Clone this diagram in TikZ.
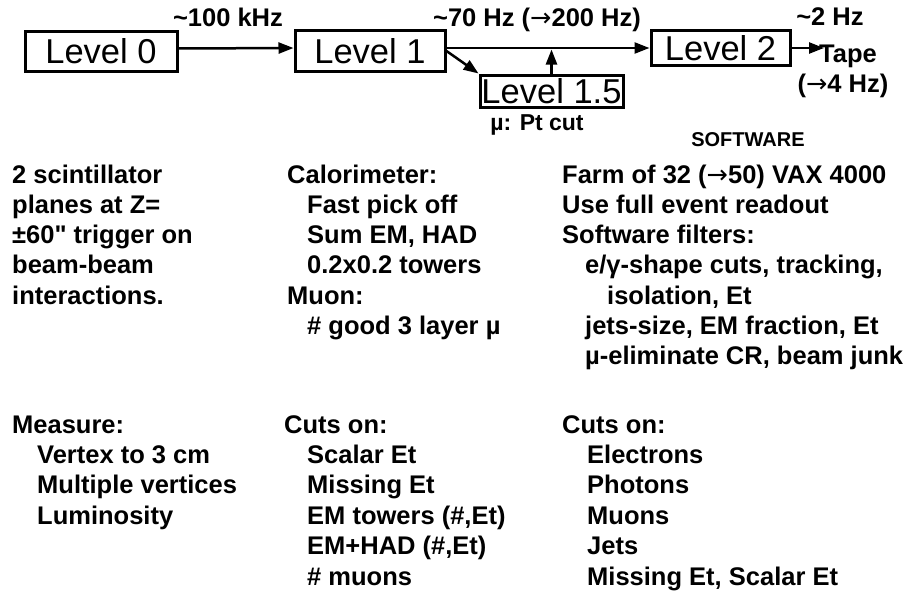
\documentclass[tikz,border=0pt]{standalone}
\usepackage{fontspec}
\setmainfont{Liberation Sans}
\newfontfamily\plainfont{Liberation Sans}
\newfontfamily\arrowfont{DejaVu Sans}
\newcommand\rarr{{\arrowfont\mdseries →}}
\newcommand\inchmark{{\plainfont\bfseries "}}
\usetikzlibrary{arrows.meta,calc}
\begin{document}
\begin{tikzpicture}[x=1pt,y=-1pt,
  lvl/.style={draw, line width=3pt, inner sep=0pt, font=\fontsize{34.5}{40}\selectfont},
  body/.style={anchor=base west, inner sep=0pt, font=\bfseries\fontsize{25.5}{30}\selectfont},
  lbl/.style={anchor=base, inner sep=0pt, font=\bfseries\fontsize{25.5}{30}\selectfont},
  arr/.style={line width=2.5pt, -{Triangle[length=15pt,width=11pt]}}]
\useasboundingbox (0,0) rectangle (920,594);

% level boxes
\node[lvl, minimum width=152pt, minimum height=39pt] (l0) at (101,51.5) {Level 0};
\node[lvl, minimum width=150pt, minimum height=40pt] (l1) at (370,51) {Level 1};
\node[lvl, minimum width=139pt, minimum height=35pt] (l2) at (720.5,48) {Level 2};
\node[lvl, minimum width=143pt, minimum height=32pt] (l15) at (551.5,91) {Level 1.5};

% rate labels
\node[lbl] (r0) at (228,27) {\textasciitilde100 kHz};
\node[lbl] (r1) at (537,27) {\textasciitilde70 Hz (\rarr200 Hz)};
\node[lbl] (r2) at (830,26) {\textasciitilde2 Hz};
\node[body] (tape) at (819,63) {Tape};
\node[lbl] (r2b) at (843,92) {(\rarr4 Hz)};
\node[lbl, font=\bfseries\fontsize{23}{28}\selectfont] (mu) at (537,130) {µ: Pt cut};
\node[lbl, font=\bfseries\fontsize{20}{24}\selectfont] (sw) at (748,146) {SOFTWARE};

% connectors
\draw[arr] ([yshift=3pt]l0.east) -- ([yshift=3pt]l1.west);
\draw[arr] ([yshift=3pt]l1.east) -- (l2.west);
\draw[arr] (l1.east) -- (l15.north west);
\coordinate (j) at (l15.north |- l2.west);
\draw[arr, shorten >=1.5pt] (l15.north) -- (j);
\draw[arr] (l2.east) -- ($(tape.west |- l2.east)+(5,0)$);

% top text columns
\foreach \dx/\t [count=\i] in {0/{2 scintillator}, 0/{planes at Z=}, 0/{±60\inchmark{} trigger on}, 0/{beam-beam}, 0/{interactions.}}
  \node[body] (a\i) at (12+\dx, 183+30.3*\i-30.3) {\t};
\foreach \dx/\t [count=\i] in {0/{Calorimeter:}, 20/{Fast pick off}, 20/{Sum EM, HAD}, 20/{0.2x0.2 towers}, 0/{Muon:}, 20/{\# good 3 layer µ}}
  \node[body] (b\i) at (287+\dx, 183+30.3*\i-30.3) {\t};
\foreach \dx/\t [count=\i] in {0/{Farm of 32 (\rarr50) VAX 4000}, 0/{Use full event readout}, 0/{Software filters:}, 23/{e/γ-shape cuts, tracking,}, 45/{isolation, Et}, 23/{jets-size, EM fraction, Et}, 23/{µ-eliminate CR, beam junk}}
  \node[body] (c\i) at (562+\dx, 183+30.3*\i-30.3) {\t};

% bottom text columns
\foreach \dx/\t [count=\i] in {0/{Measure:}, 25/{Vertex to 3 cm}, 25/{Multiple vertices}, 25/{Luminosity}}
  \node[body] (d\i) at (12+\dx, 433+30.4*\i-30.4) {\t};
\foreach \dx/\t [count=\i] in {0/{Cuts on:}, 23/{Scalar Et}, 23/{Missing Et}, 23/{EM towers (\#,Et)}, 23/{EM+HAD (\#,Et)}, 23/{\# muons}}
  \node[body] (e\i) at (284+\dx, 433+30.4*\i-30.4) {\t};
\foreach \dx/\t [count=\i] in {0/{Cuts on:}, 25/{Electrons}, 25/{Photons}, 25/{Muons}, 25/{Jets}, 25/{Missing Et, Scalar Et}}
  \node[body] (f\i) at (562+\dx, 433+30.4*\i-30.4) {\t};
\end{tikzpicture}
\end{document}
